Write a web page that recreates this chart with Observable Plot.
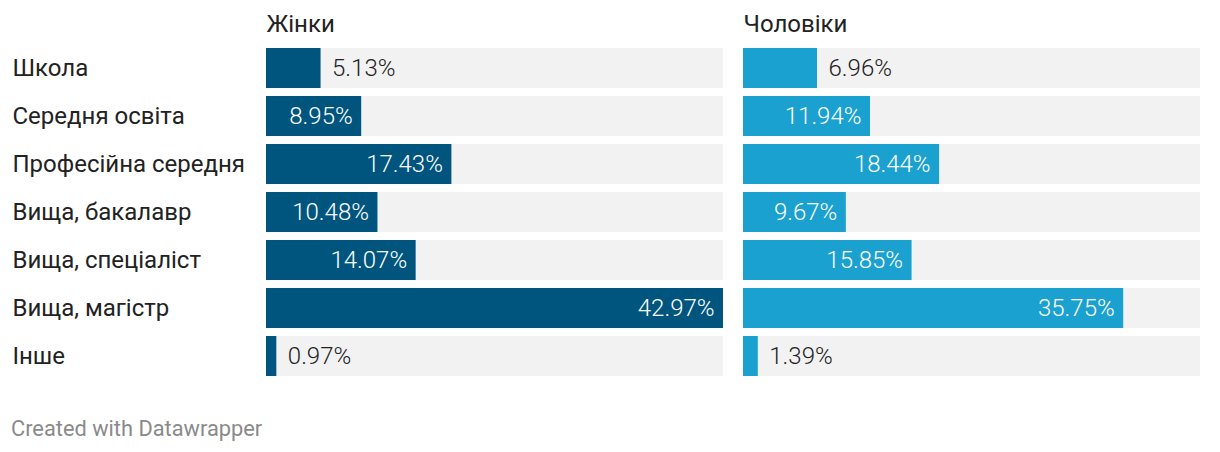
<!DOCTYPE html>
<html>
<head>
<meta charset="utf-8">
<script src="https://cdn.jsdelivr.net/npm/d3@7"></script>
<script src="https://cdn.jsdelivr.net/npm/@observablehq/plot@0.6"></script>
<style>
  html, body { margin: 0; padding: 0; background: #fff; }
  body { font-family: Roboto, sans-serif; }
  #footer { font-family: Roboto, sans-serif; font-size: 21.8px; color: #8a8a8a; padding: 16px 0 0 11px; line-height: 26px; }
</style>
</head>
<body>
<div id="chart"></div>
<div id="footer">Created with Datawrapper</div>
<script>
const categories = ["Школа", "Середня освіта", "Професійна середня", "Вища, бакалавр", "Вища, спеціаліст", "Вища, магістр", "Інше"];
const genders = ["Жінки", "Чоловіки"];
const women = [5.13, 8.95, 17.43, 10.48, 14.07, 42.97, 0.97];
const men = [6.96, 11.94, 18.44, 9.67, 15.85, 35.75, 1.39];
const colors = {"Жінки": "#00557f", "Чоловіки": "#1ba1cf"};
const xMax = 42.97;
const insideThreshold = 8;

const rows = [];
categories.forEach((c, i) => {
  rows.push({gender: genders[0], cat: c, value: women[i]});
  rows.push({gender: genders[1], cat: c, value: men[i]});
});
const bgRows = rows.map(d => ({gender: d.gender, cat: d.cat, value: xMax}));
const fmt = v => v.toFixed(2) + "%";
const FS = 24;

const chart = Plot.plot({
  width: 1220,
  height: 400,
  marginLeft: 266,
  marginRight: 20,
  marginTop: 48,
  marginBottom: 24,
  style: {fontFamily: "Roboto, sans-serif", background: "#fff"},
  fx: {domain: genders, axis: null, paddingInner: 20 / 477, paddingOuter: 0},
  x: {domain: [0, xMax], axis: null},
  y: {domain: categories, axis: null, paddingInner: 8 / 48, paddingOuter: 0},
  marks: [
    Plot.barX(bgRows, {fx: "gender", y: "cat", x1: 0, x2: "value", fill: "#f2f2f2"}),
    Plot.barX(rows, {fx: "gender", y: "cat", x1: 0, x2: "value", fill: d => colors[d.gender]}),
    Plot.text(rows.filter(d => d.value > insideThreshold), {
      fx: "gender", y: "cat", x: "value", text: d => fmt(d.value),
      textAnchor: "end", dx: -9, fill: "#fff", fontSize: FS, fontWeight: 300
    }),
    Plot.text(rows.filter(d => d.value <= insideThreshold), {
      fx: "gender", y: "cat", x: "value", text: d => fmt(d.value),
      textAnchor: "start", dx: 11, fill: "#222", fontSize: FS, fontWeight: 300
    }),
    Plot.text(categories, {
      fx: () => genders[0], y: d => d, text: d => d,
      frameAnchor: "left", dx: -254, textAnchor: "start", fill: "#222", fontSize: FS
    }),
    Plot.text(genders, {
      fx: d => d, text: d => d, frameAnchor: "top-left", dy: -24,
      textAnchor: "start", lineAnchor: "middle", fill: "#222", fontSize: FS
    })
  ]
});
document.getElementById("chart").appendChild(chart);
</script>
</body>
</html>
